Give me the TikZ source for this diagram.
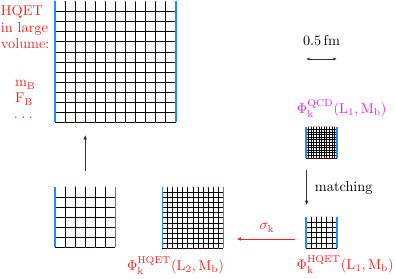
\documentclass[tikz,border=0pt]{standalone}
\usetikzlibrary{arrows.meta}
\definecolor{lred}{RGB}{240,35,35}
\definecolor{lmag}{RGB}{225,30,225}
\definecolor{lblue}{RGB}{30,140,255}
\tikzset{
  gridline/.style={black, line width=0.45pt},
  edgeline/.style={lblue, line width=1.1pt},
  lab/.style={anchor=base west, inner sep=0pt, outer sep=0pt},
  conn/.style={black!80, line width=0.45pt, -{Latex[length=3pt,width=2.6pt]}},
}
\newcommand\drawlattice[5]{%
  \pgfmathsetmacro\latL{#4*#5}%
  \pgfmathtruncatemacro\latN{#4-1}%
  \coordinate (#1-top) at ({#2+\latL/2},#3);
  \coordinate (#1-bot) at ({#2+\latL/2},{#3+\latL});
  \coordinate (#1-tl) at (#2,#3);
  \coordinate (#1-bl) at (#2,{#3+\latL});
  \begin{scope}[shift={(#2,#3)}]
    \foreach \k in {1,...,#4} \draw[gridline] (0,\k*#5) -- (\latL,\k*#5);
    \foreach \k in {1,...,\latN} {
      \draw[gridline] (\k*#5,0) -- (\k*#5,\latL);
      \fill[lred] (\k*#5,0) circle (0.45pt);
      \fill[lred] (\k*#5,\latL) circle (0.45pt);
    }
    \draw[edgeline] (0,0) -- (0,\latL);
    \draw[edgeline] (\latL,0) -- (\latL,\latL);
  \end{scope}}
\newcommand\ur[1]{\mathrm{#1}}
\begin{document}
\begin{tikzpicture}[x=0.7pt,y=-0.7pt]
\useasboundingbox (0,0) rectangle (395,279);

% lattices
\drawlattice{big}{55}{1.5}{12}{10.07}
\drawlattice{bl}{55}{187}{6}{10.07}
\drawlattice{mid}{162.3}{187.2}{12}{5.1}
\drawlattice{qcd}{306}{126.8}{12}{2.6}
\drawlattice{hq}{306}{217}{6}{5.18}

% left texts
\node[lab, text=lred] (t1) at (1,15) {HQET};
\node[lab, text=lred] (t2) at (1,32) {in large};
\node[lab, text=lred] (t3) at (1,48) {volume:};
\node[lab, text=lred] (t4) at (15,87) {$\ur{m}_{\ur{B}}$};
\node[lab, text=lred] (t5) at (15,103) {$\ur{F}_{\ur{B}}$};
\node[lab, text=lred] (t6) at (14,119) {.\hspace{2.4pt}.\hspace{2.4pt}.};

% scale
\node[anchor=base, inner sep=0pt] (scl) at (321.5,46) {0.5\,fm};
\coordinate (sl) at (306,59);
\coordinate (sr) at (337,59);
\draw[black!80, line width=0.45pt, {Latex[length=2.5pt,width=2pt]}-{Latex[length=2.5pt,width=2pt]}] (sl) -- (sr);

% labels
\node[lab, text=lmag] (lq) at (297,113.5) {$\Phi_{\ur{k}}^{\mathrm{QCD}}(\ur{L}_1,\ur{M}_{\ur{b}})$};
\node[lab] (match) at (315,191) {matching};
\node[lab, text=lred] (lh1) at (296.7,269.5) {$\Phi_{\ur{k}}^{\mathrm{HQET}}(\ur{L}_1,\ur{M}_{\ur{b}})$};
\node[lab, text=lred] (lh2) at (127,270) {$\Phi_{\ur{k}}^{\mathrm{HQET}}(\ur{L}_2,\ur{M}_{\ur{b}})$};
\node[anchor=base, inner sep=0pt, text=lred] (sig) at (267,230) {$\sigma_{\ur{k}}$};

% connectors
\draw[conn, shorten <=11.4pt, shorten >=8.9pt] (bl-top) -- (bl-top |- big-bot);
\draw[conn, shorten <=8.4pt, shorten >=8.4pt] ([xshift=0.5pt]qcd-bl) -- ([xshift=0.5pt]hq-tl);
\coordinate (ss) at (295,239);
\coordinate (se) at (236.7,239);
\draw[lred, line width=0.6pt, -{Latex[length=3pt,width=2.6pt]}] (ss) -- (se);
\end{tikzpicture}
\end{document}
